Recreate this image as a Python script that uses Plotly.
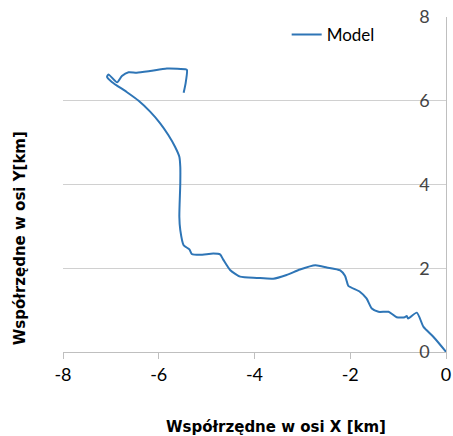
import plotly.graph_objects as go

x_km = [0.0, -0.02, -0.27, -0.47, -0.61, -0.79, -0.82, -0.86, -1.03, -1.20, -1.41, -1.55,
        -1.66, -1.80, -2.04, -2.07, -2.11, -2.21, -2.49, -2.73, -3.05, -3.33, -3.61, -3.95,
        -4.30, -4.51, -4.65, -4.72, -4.86, -5.14, -5.31, -5.36, -5.48, -5.55, -5.57, -5.55,
        -5.55, -5.57, -5.66, -5.80, -5.97, -6.18, -6.42, -6.67, -6.98, -7.08, -7.05, -6.87,
        -6.77, -6.63, -6.46, -6.18, -5.83, -5.43, -5.41, -5.44, -5.48]
y_km = [0.0, 0.03, 0.37, 0.60, 0.94, 0.80, 0.86, 0.83, 0.83, 0.96, 0.96, 1.04,
        1.28, 1.44, 1.58, 1.68, 1.82, 1.95, 2.02, 2.07, 1.97, 1.84, 1.75, 1.77,
        1.80, 1.96, 2.20, 2.33, 2.35, 2.32, 2.34, 2.45, 2.55, 2.91, 3.23, 4.03,
        4.42, 4.66, 4.90, 5.18, 5.46, 5.74, 6.00, 6.21, 6.45, 6.57, 6.63, 6.44,
        6.59, 6.68, 6.67, 6.71, 6.77, 6.75, 6.73, 6.41, 6.19]

x_ticks = [-8, -6, -4, -2, 0]
x_tick_labels = ["-8", "-6", "-4", "-2", "0"]
y_ticks = [0, 2, 4, 6, 8]
y_tick_labels = ["0", "2", "4", "6", "8"]
series_name = "Model"
x_title = "Współrzędne w osi X [km]"
y_title = "Współrzędne w osi Y[km]"

FONT = "Lato, 'Open Sans', sans-serif"
TITLE_FONT = "'DejaVu Sans', sans-serif"
BLUE = "#2E75B6"

fig = go.Figure()
fig.add_trace(go.Scatter(x=x_km, y=y_km, mode="lines", name=series_name,
                         line=dict(color=BLUE, width=2, shape="spline", smoothing=0.6)))

fig.update_layout(
    width=453, height=436,
    margin=dict(l=63, r=7, t=17, b=84),
    paper_bgcolor="white", plot_bgcolor="white",
    font=dict(family=FONT, size=17, color="black"),
    showlegend=True,
    legend=dict(x=0.584, y=1.0, xanchor="left", yanchor="top",
                bgcolor="rgba(0,0,0,0)", font=dict(size=17)),
    xaxis=dict(range=[-8, 0], tickvals=x_ticks, ticktext=x_tick_labels,
               showgrid=False, zeroline=False, automargin=False,
               showline=True, linecolor="#BFBFBF", linewidth=1,
               ticks="outside", ticklen=6, tickcolor="#BFBFBF",
               ticklabeloverflow="allow", tickfont=dict(size=18)),
    yaxis=dict(range=[0, 8], tickvals=y_ticks, ticktext=y_tick_labels, side="right",
               showgrid=True, gridcolor="#D0D0D0", gridwidth=1, zeroline=False,
               automargin=False,
               showline=True, linecolor="#BFBFBF", linewidth=1,
               ticks="", ticklabelposition="inside", ticklabelstandoff=17,
               ticklabeloverflow="allow", tickfont=dict(size=18)),
    annotations=[
        dict(text="<b>" + x_title + "</b>", xref="paper", yref="paper",
             x=0.555, y=-0.225, xanchor="center", yanchor="middle",
             showarrow=False, font=dict(family=TITLE_FONT, size=15)),
        dict(text="<b>" + y_title + "</b>", xref="paper", yref="paper",
             x=-0.112, y=0.34, xanchor="center", yanchor="middle", textangle=-90,
             showarrow=False, font=dict(family=TITLE_FONT, size=15)),
    ],
)

fig.write_html("out.html", config={"displayModeBar": False},
               post_script="document.body.style.margin='0';document.body.style.overflow='hidden';")
